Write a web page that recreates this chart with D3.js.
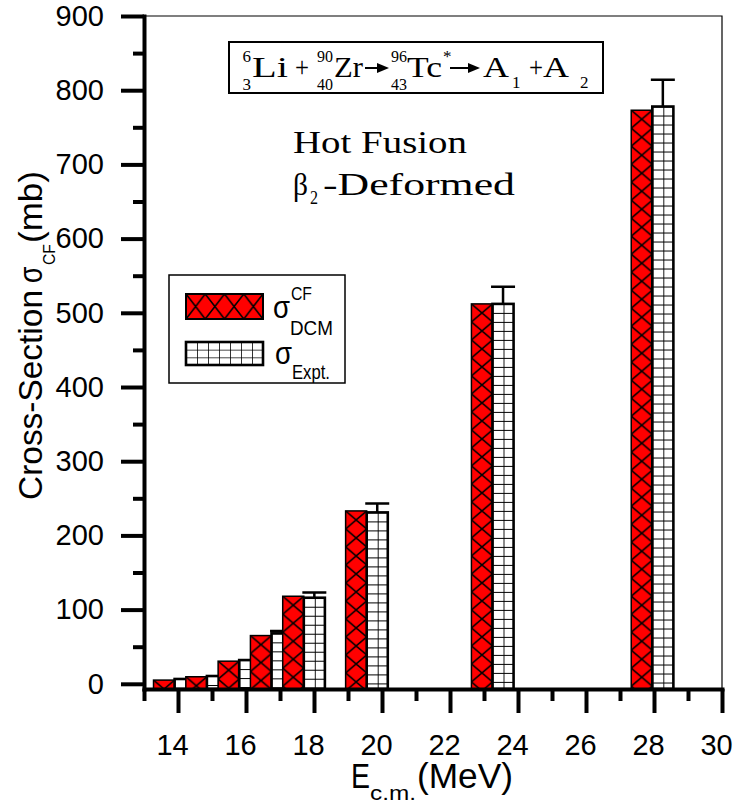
<!DOCTYPE html>
<html>
<head>
<meta charset="utf-8">
<script src="https://cdn.jsdelivr.net/npm/d3@7"></script>
<style>
    html, body { margin: 0; padding: 0; background: #fff; }
    svg { display: block; }
</style>
</head>
<body>
<div id="vis-container"></div>
<script>
"use strict";

// Centre-of-mass energy of each bar pair (MeV)
const energies = [13.9, 14.85, 15.8, 16.75, 17.7, 19.55, 23.25, 27.95];

// DCM fusion cross-sections (mb)
const sigmaDCM = [5, 9.5, 30.5, 65, 118, 233, 512, 773];

// Experimental cross-sections (mb) and their errors
const sigmaExpt = [6.5, 10.5, 32, 68, 116, 231, 512, 778];
const exptErrors = [0, 0, 0, 3, 7, 12, 23, 36];

// Axis ticks
const xTicks = [14, 16, 18, 20, 22, 24, 26, 28, 30];
const yTicks = [0, 100, 200, 300, 400, 500, 600, 700, 800, 900];

const sans = "'Liberation Sans', Arial, sans-serif";
const serif = "'Liberation Serif', 'Times New Roman', serif";

// Appends text and stretches it horizontally to the width it has in the picture
function fitText(parent, str, opts)
{
    const t = parent.append("text")
        .attr("font-family", opts.family)
        .attr("font-size", opts.size)
        .attr("text-anchor", opts.anchor || "start")
        .text(str);
    const natural = t.node().getComputedTextLength();
    const sx = opts.width ? opts.width / natural : 1;
    t.attr("transform", `translate(${opts.x},${opts.y}) scale(${sx},1)`);
    return t;
}

function arrow(parent, x1, x2, yy)
{
    parent.append("path")
        .attr("d", `M${x1},${yy}H${x2 - 9}`)
        .attr("stroke", "#000")
        .attr("stroke-width", 2);
    parent.append("path")
        .attr("d", `M${x2},${yy}L${x2 - 12},${yy - 5}L${x2 - 12},${yy + 5}Z`)
        .attr("fill", "#000");
}

function mainIndex()
{
    const width = 736;
    const height = 806;

    const x = d3.scaleLinear().domain([13, 30]).range([144, 722]);
    const y = d3.scaleLinear().domain([-7, 900]).range([689, 16]);
    const barWidth = 0.62; // MeV

    const rows = energies.map((e, i) => ({
        i: i,
        e: e,
        dcm: sigmaDCM[i],
        expt: sigmaExpt[i],
        err: exptErrors[i]
    }));

    const svg = d3.select("#vis-container")
        .append("svg")
        .attr("width", width)
        .attr("height", height);

    svg.append("rect")
        .attr("width", width)
        .attr("height", height)
        .attr("fill", "#fff");

    const defs = svg.append("defs");

    // Cross-hatch for each DCM bar, aligned to the bar
    defs.selectAll("pattern.xh")
        .data(rows)
        .join("pattern")
        .attr("class", "xh")
        .attr("id", d => "xh" + d.i)
        .attr("patternUnits", "userSpaceOnUse")
        .attr("x", d => x(d.e - barWidth))
        .attr("y", d => y(d.dcm))
        .attr("width", d => x(d.e) - x(d.e - barWidth))
        .attr("height", 18)
        .each(function (d) {
            const w = x(d.e) - x(d.e - barWidth);
            const p = d3.select(this);
            p.append("rect").attr("width", w).attr("height", 18).attr("fill", "#ff0000");
            p.append("path")
                .attr("d", `M0,0L${w},18M${w},0L0,18`)
                .attr("stroke", "#000")
                .attr("stroke-width", 1.6);
        });

    // Square grid for each experimental bar
    defs.selectAll("pattern.grid")
        .data(rows)
        .join("pattern")
        .attr("class", "grid")
        .attr("id", d => "grid" + d.i)
        .attr("patternUnits", "userSpaceOnUse")
        .attr("x", d => x(d.e))
        .attr("y", d => y(d.expt))
        .attr("width", 11)
        .attr("height", 9)
        .each(function () {
            const p = d3.select(this);
            p.append("rect").attr("width", 11).attr("height", 9).attr("fill", "#fff");
            p.append("path")
                .attr("d", "M0,0H11M0,0V9")
                .attr("stroke", "#000")
                .attr("stroke-width", 1.8);
        });

    // Legend swatch patterns
    const lx = defs.append("pattern")
        .attr("id", "legXh")
        .attr("patternUnits", "userSpaceOnUse")
        .attr("x", 186).attr("y", 294)
        .attr("width", 77 / 4).attr("height", 25);
    lx.append("rect").attr("width", 77 / 4).attr("height", 25).attr("fill", "#ff0000");
    lx.append("path")
        .attr("d", `M0,0L${77 / 4},25M${77 / 4},0L0,25`)
        .attr("stroke", "#000")
        .attr("stroke-width", 1.6);

    const lg = defs.append("pattern")
        .attr("id", "legGrid")
        .attr("patternUnits", "userSpaceOnUse")
        .attr("x", 186).attr("y", 342)
        .attr("width", 11).attr("height", 23 / 3);
    lg.append("rect").attr("width", 11).attr("height", 23 / 3).attr("fill", "#fff");
    lg.append("path")
        .attr("d", `M0,0H11M0,0V${23 / 3}`)
        .attr("stroke", "#000")
        .attr("stroke-width", 1.6);

    // Frame: thin top and right lines
    svg.append("path")
        .attr("d", `M${x(13)},${y(900)}H${x(30)}V${y(-7)}`)
        .attr("fill", "none")
        .attr("stroke", "#000")
        .attr("stroke-width", 1.2);

    // Bars, pair by pair
    const pairs = svg.selectAll("g.pair")
        .data(rows)
        .join("g")
        .attr("class", "pair");

    pairs.append("rect")
        .attr("x", d => x(d.e - barWidth))
        .attr("y", d => y(d.dcm))
        .attr("width", d => x(d.e) - x(d.e - barWidth))
        .attr("height", d => y(-7) - y(d.dcm))
        .attr("fill", d => `url(#xh${d.i})`)
        .attr("stroke", "#000")
        .attr("stroke-width", 1.5);

    pairs.append("rect")
        .attr("x", d => x(d.e))
        .attr("y", d => y(d.expt))
        .attr("width", d => x(d.e + barWidth) - x(d.e))
        .attr("height", d => y(-7) - y(d.expt))
        .attr("fill", d => `url(#grid${d.i})`)
        .attr("stroke", "#000")
        .attr("stroke-width", 2.6);

    pairs.filter(d => d.err > 0)
        .append("path")
        .attr("d", d => {
            const cx = x(d.e + barWidth / 2);
            return `M${cx},${y(d.expt)}V${y(d.expt + d.err)}M${cx - 12},${y(d.expt + d.err)}H${cx + 12}`;
        })
        .attr("fill", "none")
        .attr("stroke", "#000")
        .attr("stroke-width", 2.5);

    // Axes
    const yAxis = d3.axisLeft(y)
        .tickValues(yTicks)
        .tickSize(23)
        .tickSizeOuter(0)
        .tickPadding(17)
        .tickFormat(d3.format("d"));

    const yMinor = d3.axisLeft(y)
        .tickValues(d3.range(50, 900, 100))
        .tickSize(11)
        .tickFormat("");

    const xAxis = d3.axisBottom(x)
        .tickValues(xTicks)
        .tickSize(24)
        .tickSizeOuter(0)
        .tickPadding(21)
        .tickFormat(d3.format("d"));

    const xMinor = d3.axisBottom(x)
        .tickValues(d3.range(13, 30, 2))
        .tickSize(12)
        .tickFormat("");

    svg.append("g")
        .attr("transform", `translate(${x(13)},0)`)
        .call(yMinor)
        .call(g => g.select(".domain").remove());

    svg.append("g")
        .attr("transform", `translate(0,${y(-7)})`)
        .call(xMinor)
        .call(g => g.select(".domain").remove());

    svg.append("g")
        .attr("id", "y-axis")
        .attr("transform", `translate(${x(13)},0)`)
        .call(yAxis);

    svg.append("g")
        .attr("id", "x-axis")
        .attr("transform", `translate(0,${y(-7)})`)
        .call(xAxis)
        .call(g => g.selectAll(".tick text").attr("x", -6));

    svg.selectAll(".tick line")
        .attr("stroke", "#000")
        .attr("stroke-width", 4);

    svg.selectAll(".domain")
        .attr("stroke", "#000")
        .attr("stroke-width", 4)
        .attr("stroke-linecap", "square");

    svg.selectAll(".tick text")
        .attr("fill", "#000")
        .attr("font-family", sans)
        .attr("font-size", 29);

    // Axis titles
    const yTitle = svg.append("g").attr("transform", "rotate(-90)");
    fitText(yTitle, "Cross-Section", { family: sans, size: 34, x: -500, y: 42, width: 210 });
    fitText(yTitle, "\u03c3", { family: sans, size: 34, x: -283, y: 42, width: 16.5 });
    fitText(yTitle, "CF", { family: sans, size: 17, x: -265, y: 55, width: 21 });
    fitText(yTitle, "(mb)", { family: sans, size: 34, x: -243, y: 42, width: 72 });

    fitText(svg, "E", { family: sans, size: 35, x: 351, y: 788, width: 19 });
    fitText(svg, "c.m.", { family: sans, size: 20, x: 370, y: 800, width: 46 });
    fitText(svg, "(MeV)", { family: sans, size: 35, x: 417, y: 788, width: 96 });

    // Reaction box
    const eq = svg.append("g");
    eq.append("rect")
        .attr("x", 229).attr("y", 42)
        .attr("width", 374).attr("height", 51)
        .attr("fill", "#fff")
        .attr("stroke", "#000")
        .attr("stroke-width", 2);

    fitText(eq, "6", { family: serif, size: 17, x: 251, y: 62, anchor: "end" });
    fitText(eq, "3", { family: serif, size: 17, x: 251, y: 90, anchor: "end" });
    fitText(eq, "Li", { family: serif, size: 29, x: 252, y: 77, width: 36 });
    fitText(eq, "+", { family: serif, size: 30, x: 295, y: 77, width: 14 });
    fitText(eq, "90", { family: serif, size: 17, x: 333, y: 62, anchor: "end", width: 16 });
    fitText(eq, "40", { family: serif, size: 17, x: 333, y: 90, anchor: "end", width: 16 });
    fitText(eq, "Zr", { family: serif, size: 29, x: 334, y: 77, width: 29 });
    arrow(eq, 365, 389, 68);
    fitText(eq, "96", { family: serif, size: 17, x: 407, y: 62, anchor: "end", width: 16 });
    fitText(eq, "43", { family: serif, size: 17, x: 407, y: 90, anchor: "end", width: 16 });
    fitText(eq, "Tc", { family: serif, size: 29, x: 407, y: 77, width: 35 });
    fitText(eq, "*", { family: serif, size: 17, x: 443, y: 62 });
    arrow(eq, 450, 480, 68);
    fitText(eq, "A", { family: serif, size: 29, x: 483, y: 77, width: 26 });
    fitText(eq, "1", { family: serif, size: 17, x: 512, y: 88 });
    fitText(eq, "+", { family: serif, size: 30, x: 529, y: 77, width: 14 });
    fitText(eq, "A", { family: serif, size: 29, x: 543, y: 77, width: 26 });
    fitText(eq, "2", { family: serif, size: 17, x: 580, y: 88 });

    // Annotation
    fitText(svg, "Hot Fusion", { family: serif, size: 32, x: 293, y: 153, width: 174 });
    fitText(svg, "\u03b2", { family: serif, size: 32, x: 293, y: 195, width: 15 });
    fitText(svg, "2", { family: serif, size: 19, x: 310, y: 204, width: 8 });
    fitText(svg, "-Deformed", { family: serif, size: 32, x: 323, y: 195, width: 192 });

    // Legend
    const legend = svg.append("g").attr("id", "legend");
    legend.append("rect")
        .attr("x", 169).attr("y", 275)
        .attr("width", 176).attr("height", 108)
        .attr("fill", "#fff")
        .attr("stroke", "#000")
        .attr("stroke-width", 1.5);
    legend.append("rect")
        .attr("x", 186).attr("y", 294)
        .attr("width", 77).attr("height", 25)
        .attr("fill", "url(#legXh)")
        .attr("stroke", "#000")
        .attr("stroke-width", 2);
    legend.append("rect")
        .attr("x", 186).attr("y", 342)
        .attr("width", 77).attr("height", 23)
        .attr("fill", "url(#legGrid)")
        .attr("stroke", "#000")
        .attr("stroke-width", 2.6);

    fitText(legend, "\u03c3", { family: sans, size: 31, x: 273, y: 318, width: 17 });
    fitText(legend, "CF", { family: sans, size: 19, x: 291, y: 300, width: 21 });
    fitText(legend, "DCM", { family: sans, size: 21, x: 290, y: 335, width: 43 });
    fitText(legend, "\u03c3", { family: sans, size: 31, x: 275, y: 364, width: 17 });
    fitText(legend, "Expt.", { family: sans, size: 21, x: 292, y: 379, width: 38 });
}

document.addEventListener("DOMContentLoaded", mainIndex);
</script>
</body>
</html>
